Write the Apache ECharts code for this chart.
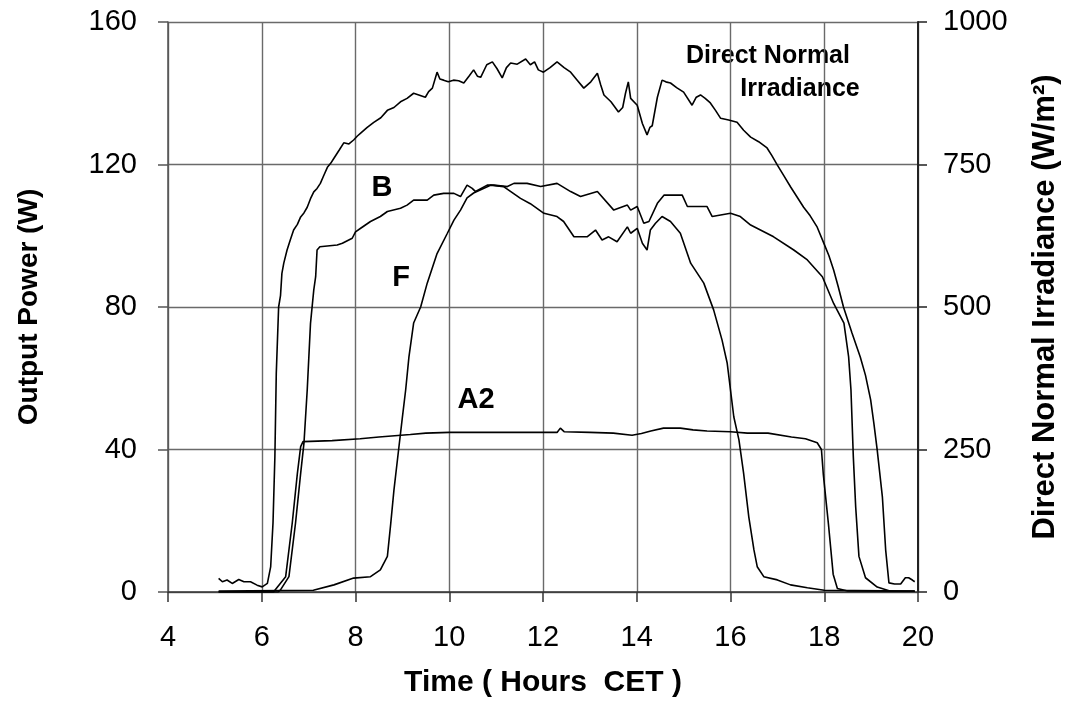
<!DOCTYPE html>
<html><head><meta charset="utf-8">
<script src="https://cdn.jsdelivr.net/npm/echarts@6/dist/echarts.min.js"></script>
<style>html,body{margin:0;padding:0;background:#fff}#c{width:1075px;height:713px}</style>
</head><body><div id="c"></div><script>
// Time (hours CET) vs Direct Normal Irradiance (W/m2)
const dniData = [[5.08,24],[5.16,18],[5.26,21],[5.37,15],[5.51,22],[5.62,18],[5.76,18],[5.90,12],[6.01,9],[6.12,15],[6.19,44],[6.24,121],[6.28,237],[6.31,384],[6.36,500],[6.40,520],[6.43,559],[6.47,577],[6.54,600],[6.61,618],[6.68,635],[6.76,645],[6.83,658],[6.90,665],[6.97,675],[7.04,690],[7.11,702],[7.18,708],[7.25,717],[7.33,732],[7.40,745],[7.47,752],[7.54,761],[7.65,775],[7.75,788],[7.86,786],[7.96,793],[8.04,800],[8.11,805],[8.25,815],[8.39,824],[8.54,832],[8.68,845],[8.82,850],[8.96,860],[9.10,866],[9.24,875],[9.35,872],[9.49,868],[9.56,878],[9.64,884],[9.74,912],[9.80,900],[9.88,898],[9.98,895],[10.09,898],[10.20,897],[10.31,893],[10.42,905],[10.52,916],[10.60,905],[10.67,903],[10.80,925],[10.92,930],[11.02,918],[11.13,902],[11.22,920],[11.31,928],[11.45,926],[11.63,935],[11.73,925],[11.82,930],[11.90,916],[12.01,912],[12.15,920],[12.30,930],[12.45,920],[12.59,912],[12.73,898],[12.87,884],[13.02,895],[13.16,910],[13.23,890],[13.30,872],[13.45,860],[13.61,842],[13.70,850],[13.76,875],[13.82,895],[13.87,866],[14.01,854],[14.12,822],[14.22,802],[14.28,815],[14.33,818],[14.44,868],[14.54,898],[14.62,895],[14.72,893],[14.85,885],[15.00,877],[15.18,854],[15.27,868],[15.36,872],[15.46,866],[15.57,858],[15.68,845],[15.79,831],[15.96,828],[16.14,824],[16.28,810],[16.43,798],[16.60,790],[16.78,779],[16.88,766],[17.00,749],[17.14,730],[17.28,711],[17.42,693],[17.56,675],[17.70,660],[17.85,640],[17.99,612],[18.10,590],[18.20,565],[18.30,535],[18.41,500],[18.59,455],[18.77,412],[18.88,380],[18.99,337],[19.06,295],[19.13,249],[19.24,167],[19.31,74],[19.38,16],[19.50,14],[19.63,14],[19.73,25],[19.80,25],[19.88,21],[19.93,18]];
// Time vs output power (W)
const bData = [[5.08,0],[6.35,0],[6.40,0.6],[6.58,4.3],[6.72,19.3],[6.83,33.3],[6.90,41.7],[6.97,56.7],[7.04,75.4],[7.11,84.8],[7.15,88.5],[7.18,96.0],[7.24,96.9],[7.45,97.2],[7.61,97.4],[7.72,97.9],[7.93,99.3],[8.00,101.1],[8.11,102.1],[8.32,104.0],[8.53,105.4],[8.68,106.8],[8.96,107.7],[9.10,108.6],[9.24,110.0],[9.53,110.0],[9.67,111.4],[9.88,111.9],[10.10,111.9],[10.24,111.0],[10.38,114.2],[10.49,113.3],[10.56,112.4],[10.81,114.2],[10.95,114.2],[11.24,113.8],[11.38,114.7],[11.66,114.7],[11.95,113.8],[12.30,114.7],[12.59,112.4],[12.80,111.0],[13.16,112.4],[13.51,107.2],[13.80,108.6],[13.87,107.2],[14.01,108.2],[14.15,103.5],[14.26,104.0],[14.44,109.1],[14.58,111.4],[14.97,111.4],[15.08,108.2],[15.50,108.2],[15.61,105.4],[16.00,106.3],[16.21,105.4],[16.43,103.0],[16.92,99.7],[17.35,96.0],[17.64,93.2],[17.96,88.5],[18.20,81.0],[18.42,75.5],[18.52,66],[18.57,56.7],[18.62,38],[18.67,24],[18.74,10],[18.88,4],[19.13,1.4],[19.40,0.3],[19.93,0.2]];
const fData = [[5.08,0.3],[7.10,0.5],[7.54,2.0],[7.96,3.9],[8.32,4.3],[8.53,6.2],[8.68,10],[8.75,19],[8.82,28.6],[8.92,40],[9.00,49],[9.07,56.7],[9.14,66],[9.24,75.5],[9.39,80],[9.53,86.7],[9.74,95],[9.96,100.7],[10.10,104.4],[10.24,107.2],[10.38,110.6],[10.52,112],[10.88,114.2],[11.16,113.8],[11.52,110.5],[11.73,109],[12.02,106.3],[12.30,105.4],[12.44,104],[12.66,99.7],[12.94,99.7],[13.12,101.6],[13.26,98.8],[13.40,99.7],[13.58,98.3],[13.80,102.5],[13.87,100.7],[14.01,102.1],[14.12,97.9],[14.22,96],[14.29,101.6],[14.40,103.5],[14.54,105.4],[14.72,104],[14.93,100.7],[15.15,92.3],[15.43,86.7],[15.64,79.2],[15.82,70.7],[15.93,64.2],[16.00,56.7],[16.07,49.2],[16.18,42.7],[16.28,33.3],[16.39,21.1],[16.50,11.8],[16.57,7.1],[16.71,4.3],[17.00,3.4],[17.28,2.0],[17.64,1.2],[18.00,0.5],[19.93,0.3]];
const a2Data = [[5.08,0],[6.25,0],[6.29,0.5],[6.51,4.3],[6.65,19.3],[6.76,33.3],[6.83,40.8],[6.88,42.2],[7.5,42.5],[8.1,43.0],[8.5,43.5],[9.17,44.2],[9.5,44.6],[10.0,44.8],[11.0,44.8],[12.0,44.8],[12.3,44.8],[12.37,46.0],[12.45,45.0],[13.0,44.8],[13.5,44.6],[13.9,44.0],[14.1,44.5],[14.3,45.2],[14.57,46.0],[14.93,46.0],[15.2,45.5],[15.5,45.2],[16.0,45.0],[16.36,44.6],[16.8,44.6],[17.3,43.5],[17.6,43.0],[17.85,41.9],[17.94,40],[17.98,33],[18.09,19],[18.19,5],[18.28,1],[18.5,0.3],[19.93,0.2]];
const seriesNames = ['Direct Normal Irradiance','B','F','A2'];

const FONT = '"Liberation Sans", Arial, sans-serif';
const chart = echarts.init(document.getElementById('c'));
const lineStyle = {color:'#000', width:1.6};
function mk(name, data, yIdx){
  return {name, type:'line', data, yAxisIndex:yIdx, showSymbol:false, symbol:'none', smooth:false,
          lineStyle, itemStyle:{color:'#000'}, z:5};
}
chart.setOption({
  animation:false,
  backgroundColor:'#fff',
  grid:{left:168, right:157, top:22, bottom:121, containLabel:false},
  xAxis:{type:'value', min:4, max:20, interval:2,
    name:'Time ( Hours  CET )', nameLocation:'middle', nameGap:76,
    nameTextStyle:{fontFamily:FONT, fontSize:30, fontWeight:'bold', color:'#000'},
    axisLine:{lineStyle:{color:'#333', width:1.5}},
    axisTick:{show:true, length:10, lineStyle:{color:'#333', width:1.5}},
    axisLabel:{fontFamily:FONT, fontSize:29, color:'#000', margin:31},
    splitLine:{show:true, lineStyle:{color:'#6a6a6a', width:1.4}}},
  yAxis:[
    {type:'value', min:0, max:160, interval:40, position:'left',
     name:'Output Power (W)', nameLocation:'middle', nameGap:125, nameRotate:90,
     nameTextStyle:{fontFamily:FONT, fontSize:28, fontWeight:'bold', color:'#000'},
     axisLine:{show:true, lineStyle:{color:'#555', width:1.5}},
     axisTick:{show:true, length:10, lineStyle:{color:'#555', width:1.5}},
     axisLabel:{fontFamily:FONT, fontSize:29, color:'#000', margin:31},
     splitLine:{show:true, lineStyle:{color:'#6a6a6a', width:1.4}}},
    {type:'value', min:0, max:1000, interval:250, position:'right',
     name:'Direct Normal Irradiance (W/m²)', nameLocation:'middle', nameGap:112, nameRotate:90,
     nameTextStyle:{fontFamily:FONT, fontSize:31, fontWeight:'bold', color:'#000'},
     axisLine:{show:true, lineStyle:{color:'#222', width:2}},
     axisTick:{show:true, length:9, lineStyle:{color:'#222', width:1.5}},
     axisLabel:{fontFamily:FONT, fontSize:29, color:'#000', margin:25, formatter:v=>String(v)},
     splitLine:{show:false}}
  ],
  series:[mk(seriesNames[0], dniData, 1), mk(seriesNames[1], bData, 0), mk(seriesNames[2], fData, 0), mk(seriesNames[3], a2Data, 0)],
  graphic:[
    {type:'text', x:768, y:56, style:{text:'Direct Normal', font:'bold 25px '+FONT, fill:'#000', textAlign:'center', textVerticalAlign:'middle'}},
    {type:'text', x:800, y:89, style:{text:'Irradiance', font:'bold 25px '+FONT, fill:'#000', textAlign:'center', textVerticalAlign:'middle'}},
    {type:'text', x:382, y:188, style:{text:'B', font:'bold 29px '+FONT, fill:'#000', textAlign:'center', textVerticalAlign:'middle'}},
    {type:'text', x:401, y:278, style:{text:'F', font:'bold 29px '+FONT, fill:'#000', textAlign:'center', textVerticalAlign:'middle'}},
    {type:'text', x:476, y:400, style:{text:'A2', font:'bold 29px '+FONT, fill:'#000', textAlign:'center', textVerticalAlign:'middle'}}
  ]
});
</script></body></html>
